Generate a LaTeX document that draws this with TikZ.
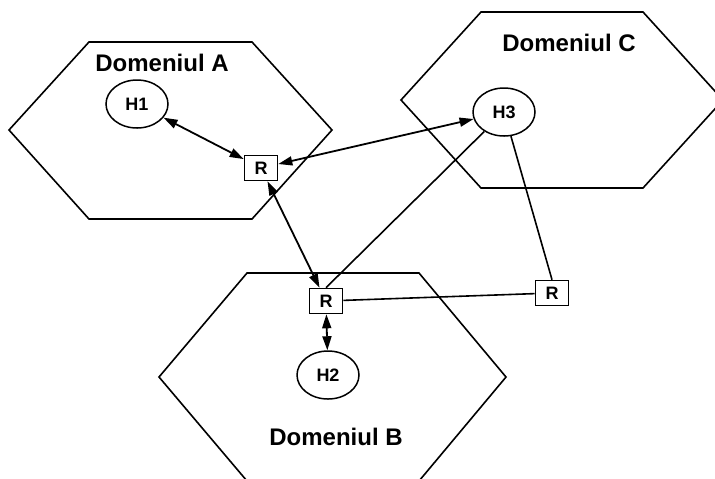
\documentclass[tikz,border=0pt]{standalone}
\usepackage{fontspec}
\setmainfont{Liberation Sans}
\usepackage{tikz}
\usetikzlibrary{shapes.geometric,arrows.meta,positioning}
\tikzset{
  % Domain outline (hexagon drawn as a path)
  dombox/.style={draw=black, line width=0.8pt, line join=miter},
  % Domain title
  domlbl/.style={font=\fontsize{12}{14}\selectfont\bfseries},
  % Host ellipse
  hostnd/.style={ellipse, draw=black, line width=0.75pt, fill=white,
                 minimum width=31pt, minimum height=24pt, inner sep=0pt,
                 font=\fontsize{9}{10}\selectfont\bfseries},
  % Router box
  routnd/.style={rectangle, draw=black, line width=0.8pt, fill=white,
                 minimum width=16.5pt, minimum height=12.5pt, inner sep=0pt,
                 font=\fontsize{9}{10}\selectfont\bfseries},
  % Links
  biarr/.style ={{Triangle[length=7pt,width=4.5pt]}-{Triangle[length=7pt,width=4.5pt]},
                 line width=0.9pt},
  link/.style  ={line width=0.8pt},
}
\begin{document}
\begin{tikzpicture}[x=0.5pt,y=-0.5pt]

    \clip (0,0) rectangle (715,478);

    % ── Domain outlines ───────────────────────────────────
    \draw[dombox] (89,42) -- (252,42) -- (332,130) -- (252,219)
          -- (89,219) -- (9,130) -- cycle;
    \draw[dombox] (481,12) -- (643,12) -- (723,100) -- (643,188)
          -- (481,188) -- (401,100) -- cycle;
    \draw[dombox] (247,273) -- (419,273) -- (506,377) -- (419,481)
          -- (247,481) -- (159,377) -- cycle;

    % ── Domain titles ─────────────────────────────────────
    \node[domlbl] (tA) at (162,63)  {Domeniul A};
    \node[domlbl] (tC) at (569,43)  {Domeniul C};
    \node[domlbl] (tB) at (336,437) {Domeniul B};

    % ── Hosts and routers ─────────────────────────────────
    \node[hostnd] (h1) at (137,104) {H1};
    \node[hostnd] (h3) at (504,112) {H3};
    \node[hostnd] (h2) at (328,375) {H2};
    \node[routnd] (rA) at (261,168) {R};
    \node[routnd] (rB) at (326,301) {R};
    \node[routnd] (rC) at (552,293) {R};

    % ── Links ─────────────────────────────────────────────
    \draw[biarr] (h1) -- (rA);
    \draw[biarr] (rA) -- (h3);
    \draw[biarr] (rA) -- (rB);
    \draw[biarr] (rB) -- (h2);
    \draw[link]  (h3) -- (rB.north);
    \draw[link]  (h3) -- (rC.north);
    \draw[link]  (rB) -- (rC);

\end{tikzpicture}
\end{document}
